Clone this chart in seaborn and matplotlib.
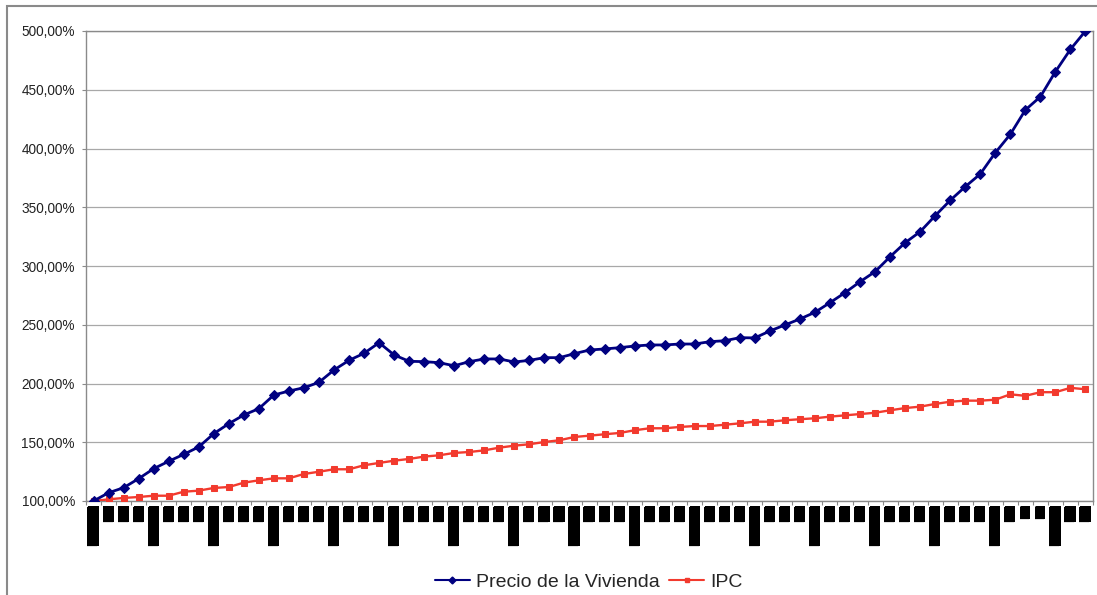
import matplotlib
matplotlib.use("Agg")
import numpy as np
import pandas as pd
import matplotlib.pyplot as plt
import seaborn as sns
from matplotlib.ticker import FuncFormatter, MultipleLocator, FixedLocator
from matplotlib.lines import Line2D
from matplotlib.patches import Rectangle

# Quarterly periods, 1987-T1 .. 2003-T3
periodos = [f"{a}-T{t}" for a in range(1987, 2004) for t in range(1, 5)][:67]

# Index, first quarter = 100 %
vivienda = [100.0, 107.0, 111.3, 119.0, 127.5, 133.8, 139.7, 146.0, 157.3, 165.8,
            173.2, 178.6, 190.2, 193.6, 196.4, 201.0, 211.5, 219.7, 225.7, 234.7,
            224.3, 218.9, 218.6, 217.7, 215.1, 218.6, 220.9, 220.9, 218.3, 219.7,
            222.0, 222.0, 225.4, 228.5, 229.4, 230.5, 231.9, 232.8, 232.8, 233.6,
            233.6, 235.6, 236.4, 239.0, 238.8, 244.7, 249.8, 254.9, 260.6, 268.8,
            277.3, 286.6, 295.2, 307.9, 319.8, 329.2, 342.8, 355.9, 367.5, 378.3,
            396.4, 412.1, 432.8, 444.1, 465.4, 484.4, 500.0]

ipc = [100.0, 101.4, 102.6, 103.4, 104.5, 104.5, 107.9, 108.8, 111.1, 111.9,
       115.6, 117.6, 119.3, 119.3, 123.0, 124.9, 127.0, 127.0, 130.4, 132.4,
       134.3, 135.8, 137.8, 138.9, 140.9, 141.7, 143.1, 145.4, 147.1, 148.3,
       150.2, 151.7, 154.5, 155.6, 156.8, 157.9, 160.2, 161.9, 161.9, 163.0,
       163.8, 163.8, 164.9, 166.1, 167.5, 167.5, 168.7, 169.6, 170.4, 171.8,
       172.9, 174.0, 175.1, 177.2, 179.1, 180.3, 182.6, 184.5, 185.4, 185.4,
       186.2, 190.8, 189.5, 192.6, 192.6, 196.3, 195.1]

series = ["Precio de la Vivienda", "IPC"]
colores = {"Precio de la Vivienda": "#000080", "IPC": "#F23A2E"}

# Category-axis labels, printed as solid blocks
etiquetas = ["█████" if p.endswith("T1") else "██" for p in periodos]
etiquetas_pequenas = {"2002-T3", "2002-T4"}

df = pd.DataFrame({"periodo": periodos * 2,
                   "valor": vivienda + ipc,
                   "serie": [series[0]] * len(periodos) + [series[1]] * len(periodos)})

sns.set_style("white")
plt.rcParams["font.family"] = ["Liberation Sans", "DejaVu Sans"]

fig = plt.figure(figsize=(10.97, 5.95), dpi=100)
ax = fig.add_axes([86 / 1097, 1 - 501 / 595, (1093 - 86) / 1097, (501 - 31) / 595])

sns.lineplot(data=df[df.serie == series[0]], x="periodo", y="valor", ax=ax,
             color=colores[series[0]], marker="D", markersize=5.5, lw=2.0,
             markeredgecolor=colores[series[0]], sort=False, zorder=4)
sns.lineplot(data=df[df.serie == series[1]], x="periodo", y="valor", ax=ax,
             color=colores[series[1]], marker="s", markersize=3.8, lw=1.7,
             markeredgecolor=colores[series[1]], sort=False, zorder=3)

ax.set_xlim(-0.5, len(periodos) - 0.5)
ax.set_ylim(100, 500)
ax.yaxis.set_major_locator(MultipleLocator(50))
ax.yaxis.set_major_formatter(FuncFormatter(lambda v, _: f"{v:.2f}%".replace(".", ",")))
ax.grid(axis="y", color="#a8a8a8", lw=0.9)
ax.grid(axis="x", visible=False)
ax.set_axisbelow(True)
ax.set_xlabel("")
ax.set_ylabel("")

for s in ax.spines.values():
    s.set_color("#8a8a8a")
    s.set_linewidth(1.0)

ax.tick_params(axis="y", which="major", length=3, width=0.8, color="#8a8a8a",
               pad=5.0, labelsize=9.8, labelcolor="#222222", left=True)
ax.set_xticks(np.arange(len(periodos)))
ax.set_xticklabels(etiquetas, rotation=90, fontsize=7.5, family="DejaVu Sans", color="black")
for p, t in zip(periodos, ax.get_xticklabels()):
    t.set_bbox(dict(boxstyle="square,pad=0", facecolor="black", edgecolor="none"))
    if p in etiquetas_pequenas:
        t.set_fontsize(6.3)
ax.xaxis.set_minor_locator(FixedLocator(np.arange(-0.5, len(periodos), 1.0)))
ax.tick_params(axis="x", which="major", length=0, pad=3.3, bottom=True)
ax.tick_params(axis="x", which="minor", length=3, width=0.8, color="#8a8a8a", bottom=True)

handles = [Line2D([], [], color=colores[series[0]], marker="D", markersize=3.5, lw=1.5),
           Line2D([], [], color=colores[series[1]], marker="s", markersize=2.8, lw=1.5)]
fig.legend(handles, series, loc="center", bbox_to_anchor=(588.5 / 1097, 1 - 582 / 595),
           ncol=2, frameon=False, fontsize=14, handlelength=1.8, handletextpad=0.3,
           columnspacing=0.5)

fig.patches.append(Rectangle((7 / 1097, -0.1), 1.2, 1.1 - 6 / 595, transform=fig.transFigure,
                             fill=False, ec="#8a8a8a", lw=1.5, clip_on=False))

fig.savefig("out.png", dpi=100)
